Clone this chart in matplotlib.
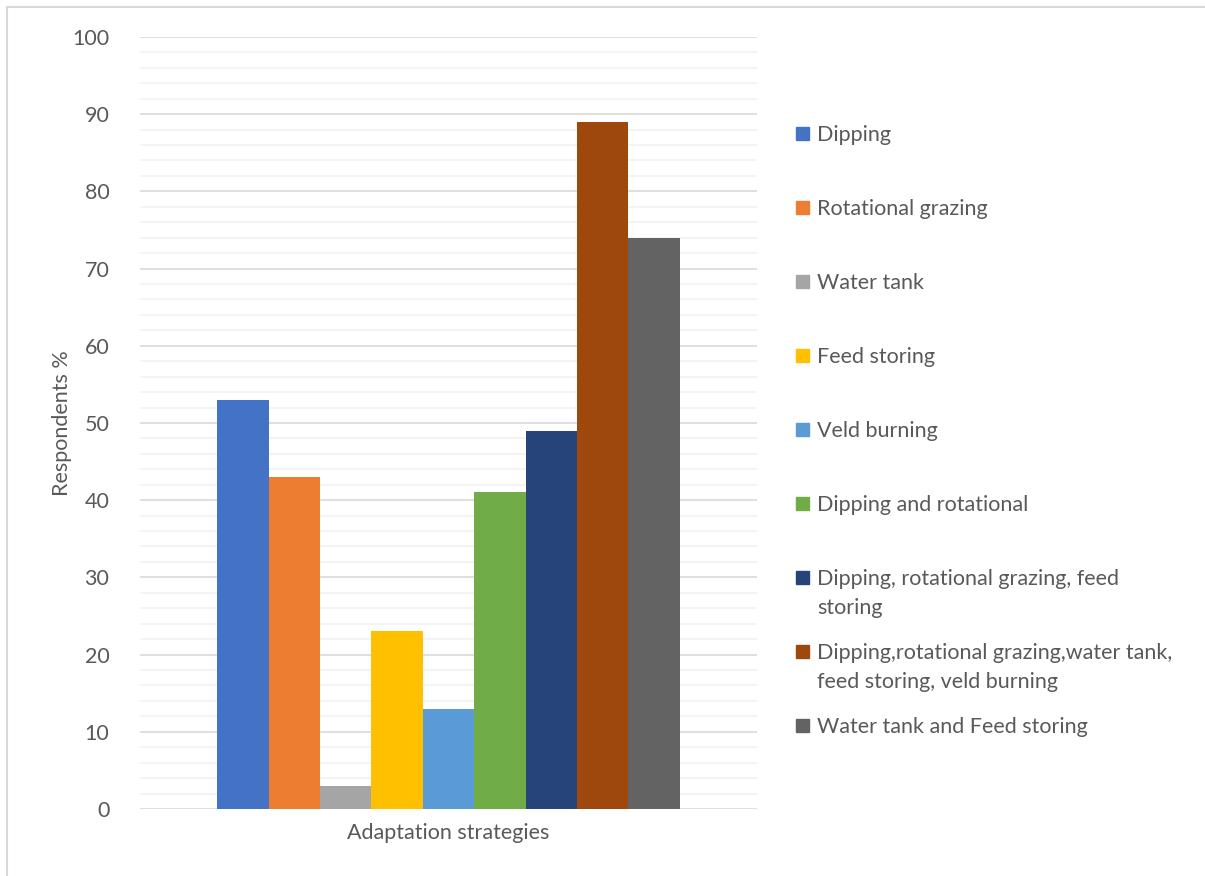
import numpy as np
import matplotlib.pyplot as plt
from matplotlib.patches import Rectangle
from matplotlib.lines import Line2D

# Adaptation strategies and share of respondents using each one
strategies = [
    "Dipping",
    "Rotational grazing",
    "Water tank",
    "Feed storing",
    "Veld burning",
    "Dipping and rotational",
    "Dipping, rotational grazing, feed\nstoring",
    "Dipping,rotational grazing,water tank,\nfeed storing, veld burning",
    "Water tank and Feed storing",
]
respondents = [53, 43, 3, 23, 13, 41, 49, 89, 74]
colors = ["#4472C4", "#ED7D31", "#A5A5A5", "#FFC000", "#5B9BD5",
          "#70AD47", "#264478", "#9E480E", "#636363"]

plt.rcParams['font.family'] = ['Lato', 'DejaVu Sans']
text_col = "#595959"
fs = 15.5


def main():
    fig = plt.figure(figsize=(12.05, 8.76), dpi=100)
    ax = fig.add_axes([0.1162, 0.0765, 0.512, 0.8813])

    n = len(respondents)
    width = 0.9 / n
    offsets = (np.arange(n) - (n - 1) / 2) * width
    for i in range(n):
        ax.bar(offsets[i], respondents[i], width=width, color=colors[i],
               zorder=3)

    ax.set_xlim(-0.6, 0.6)
    ax.set_ylim(0, 100)
    ax.set_yticks(np.arange(0, 101, 10))
    ax.set_yticks(np.arange(0, 101, 2), minor=True)
    ax.grid(which='major', axis='y', color='#D9D9D9', linewidth=1.2, zorder=0)
    ax.grid(which='minor', axis='y', color='#F2F2F2', linewidth=1.2, zorder=0)
    ax.set_xticks([])
    for s in ax.spines.values():
        s.set_visible(False)
    ax.tick_params(axis='y', which='both', length=0, labelsize=fs,
                   labelcolor=text_col, pad=22)

    ax.set_xlabel("Adaptation strategies", fontsize=fs, color=text_col,
                  labelpad=10)
    ax.set_ylabel("Respondents %", fontsize=fs, color=text_col, labelpad=0)

    # legend drawn by hand so wrapped entries keep the even spacing
    W, H = 1205, 876
    for i, lab in enumerate(strategies):
        y = 133 + i * 74.0
        fig.patches.append(Rectangle((796 / W, 1 - (y + 6.5) / H), 13 / W, 13 / H,
                                     transform=fig.transFigure,
                                     color=colors[i]))
        fig.text(817 / W, 1 - (y - 8) / H, lab, fontsize=fs, color=text_col,
                 va='top', ha='left', linespacing=1.55)

    # chart frame (top and left edges)
    fig.add_artist(Line2D([7 / W, 7 / W], [0, 1 - 7 / H], color='#D9D9D9',
                          linewidth=1.5, transform=fig.transFigure))
    fig.add_artist(Line2D([7 / W, 1], [1 - 7 / H, 1 - 7 / H], color='#D9D9D9',
                          linewidth=1.5, transform=fig.transFigure))

    fig.savefig("out.png", dpi=100)


if __name__ == "__main__":
    main()
